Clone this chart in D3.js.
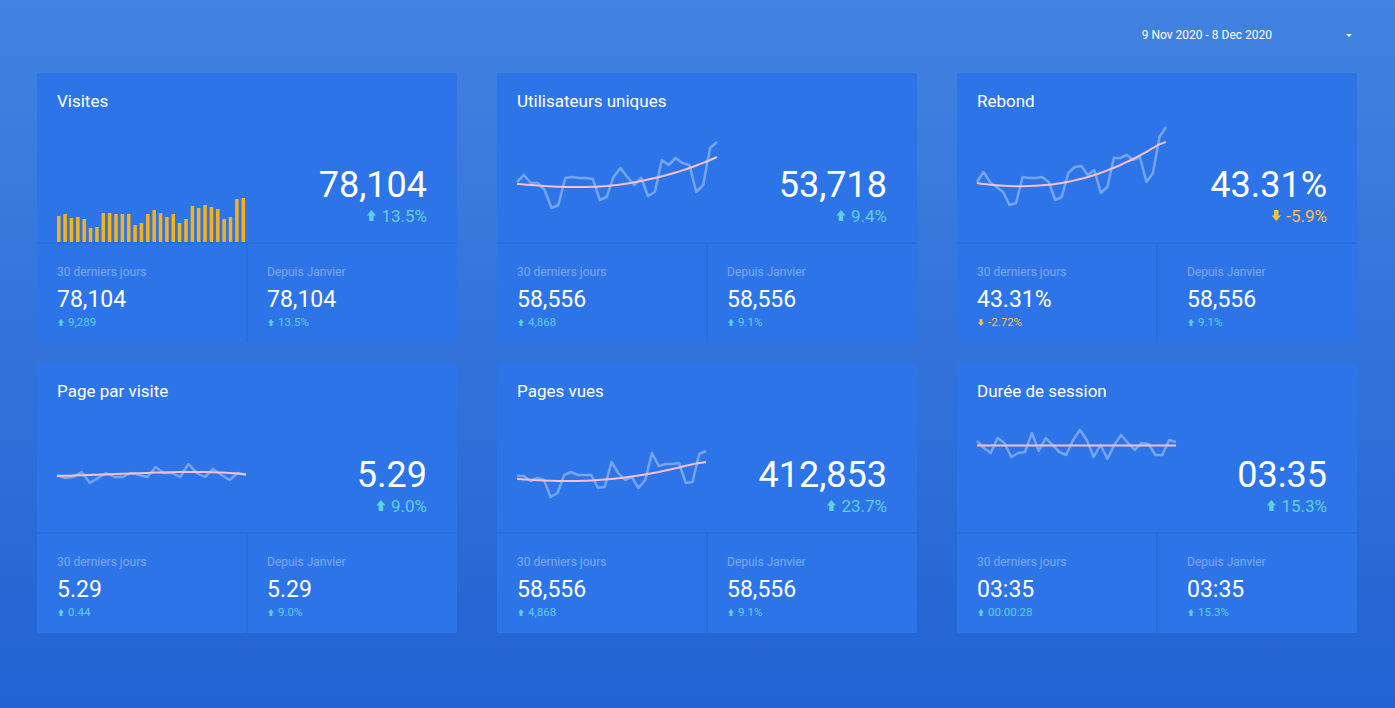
<!DOCTYPE html>
<html>
<head>
<meta charset="utf-8">
<script src="https://cdn.jsdelivr.net/npm/d3@7"></script>
<style>
  body { margin: 0; overflow: hidden; font-family: Roboto, 'Noto Sans', sans-serif; }
</style>
</head>
<body>
<div id="dash"></div>
<script>
// card titles and headline values
const titles = ['Visites', 'Utilisateurs uniques', 'Rebond', 'Page par visite', 'Pages vues', 'Durée de session']
const mainValues = ['78,104', '53,718', '43.31%', '5.29', '412,853', '03:35']
const mainChanges = ['13.5%', '9.4%', '-5.9%', '9.0%', '23.7%', '15.3%']
const lastValues = ['78,104', '58,556', '43.31%', '5.29', '58,556', '03:35']
const lastChanges = ['9,289', '4,868', '-2.72%', '0.44', '4,868', '00:00:28']
const janValues = ['78,104', '58,556', '58,556', '5.29', '58,556', '03:35']
const janChanges = ['13.5%', '9.1%', '9.1%', '9.0%', '9.1%', '15.3%']
const isDown = [false, false, true, false, false, false]

// daily visits (bars)
const visits = [26, 28, 24, 25, 23, 14, 15, 29, 29, 28, 28, 28, 17, 19, 28, 32, 29, 25, 28, 19, 23, 36, 34, 37, 35, 33, 23, 25, 43, 44]

// sparklines (raw + trend)
const users = [38, 45, 37, 37, 30, 12, 15, 42, 43, 42, 42, 41, 20, 23, 43, 52, 43, 35, 42, 24, 28, 60, 55, 62, 57, 55, 28, 35, 72, 78]
const usersTrend = [36, 35.5, 35, 34.5, 34, 33.5, 33.3, 33, 33, 33, 33, 33.2, 33.5, 34, 34.7, 35.5, 36.5, 37.7, 39, 40.5, 42, 43.7, 45.5, 47.5, 49.5, 52, 54.5, 57, 60, 63]
const bounce = [38, 48, 38, 33, 28, 15, 17, 43, 42, 42, 43, 38, 20, 23, 47, 53, 54, 45, 50, 27, 33, 62, 62, 65, 60, 63, 38, 47, 83, 93]
const bounceTrend = [37, 36, 35.3, 34.7, 34.2, 34, 33.8, 33.8, 34, 34.2, 34.6, 35.2, 36, 37, 38.2, 39.6, 41.2, 43, 45, 47.2, 49.6, 52.2, 55, 58, 61.2, 64.6, 68.2, 72, 76, 78]
const pagesPerVisit = [25, 22, 23, 28, 17, 22, 27, 23, 23, 27, 25, 23, 33, 27, 27, 23, 36, 27, 23, 31, 25, 20, 27, 25]
const pagesPerVisitTrend = [24, 24.2, 24.4, 24.7, 25, 25.3, 25.6, 25.9, 26.2, 26.5, 26.8, 27.1, 27.4, 27.6, 27.8, 28, 28.1, 28.1, 28, 27.8, 27.5, 27, 26.4, 25.7]
const pageViews = [34, 34, 29, 32, 30, 13, 17, 35, 38, 35, 35, 35, 22, 23, 48, 37, 30, 33, 22, 30, 57, 44, 46, 46, 47, 27, 28, 56, 59]
const pageViewsTrend = [31, 30.6, 30.2, 29.8, 29.5, 29.2, 29, 28.9, 28.9, 29, 29.2, 29.5, 29.9, 30.4, 31, 31.7, 32.5, 33.4, 34.4, 35.5, 36.7, 38, 39.4, 40.9, 42.5, 44.2, 45.9, 47, 48]
const session = [29, 22, 17, 32, 27, 13, 17, 18, 37, 19, 32, 25, 18, 15, 30, 40, 30, 13, 25, 11, 25, 35, 27, 20, 27, 26, 15, 15, 30, 28]
const sessionTrend = [24.6, 24.6, 24.6, 24.6, 24.6, 24.5, 24.5, 24.5, 24.5, 24.5, 24.5, 24.5, 24.5, 24.5, 24.5, 24.5, 24.5, 24.5, 24.5, 24.5, 24.5, 24.5, 24.5, 24.4, 24.4, 24.4, 24.4, 24.4, 24.4, 24.4]

const W = 1395
const H = 708
const svg = d3.select('#dash').append('svg').attr('width', W).attr('height', H)

const defs = svg.append('defs')
const grad = defs.append('linearGradient').attr('id', 'bg').attr('x1', 0).attr('y1', 0).attr('x2', 0).attr('y2', 1)
grad.append('stop').attr('offset', '0%').attr('stop-color', '#4282e0')
grad.append('stop').attr('offset', '100%').attr('stop-color', '#2263d3')
svg.append('rect').attr('width', W).attr('height', H).attr('fill', 'url(#bg)')

// date picker
svg.append('text').attr('x', 1272).attr('y', 39).attr('text-anchor', 'end')
  .attr('fill', '#fff').attr('font-size', 12).text('9 Nov 2020 - 8 Dec 2020')
svg.append('path').attr('d', 'M1346,34 l6,0 l-3,3 z').attr('fill', '#fff')

const cardX = [37, 497, 957]
const cardW = [420, 420, 400]
const cardY = [73, 363]
const cardH = 270

const up = '#5fd0e0'
const down = '#f7c244'

function arrow (g, x, y, s, isDn, color) {
  // slim block arrow, (x,y) = centre bottom
  const p = isDn
    ? [[-s * 0.2, -s], [s * 0.2, -s], [s * 0.2, -s * 0.5], [s * 0.42, -s * 0.5], [0, 0], [-s * 0.42, -s * 0.5], [-s * 0.2, -s * 0.5]]
    : [[-s * 0.2, 0], [s * 0.2, 0], [s * 0.2, -s * 0.5], [s * 0.42, -s * 0.5], [0, -s], [-s * 0.42, -s * 0.5], [-s * 0.2, -s * 0.5]]
  g.append('path').attr('d', 'M' + p.map(d => [x + d[0], y + d[1]].join(',')).join('L') + 'Z').attr('fill', color)
}

const sparks = [
  null,
  { raw: users, trend: usersTrend, top: 120, bottom: 220, x0: 20, x1: 220, dom: 100 },
  { raw: bounce, trend: bounceTrend, top: 110, bottom: 220, x0: 20, x1: 209, dom: 110 },
  { raw: pagesPerVisit, trend: pagesPerVisitTrend, top: 440, bottom: 500, x0: 20, x1: 209, dom: 60 },
  { raw: pageViews, trend: pageViewsTrend, top: 430, bottom: 510, x0: 20, x1: 209, dom: 80 },
  { raw: session, trend: sessionTrend, top: 420, bottom: 470, x0: 20, x1: 219, dom: 50 }
]

titles.forEach(function (t, i) {
  const col = i % 3
  const row = Math.floor(i / 3)
  const x = cardX[col]
  const y = cardY[row]
  const w = cardW[col]
  const g = svg.append('g').attr('transform', 'translate(' + x + ',' + y + ')')
  g.append('rect').attr('width', w).attr('height', cardH).attr('fill', '#2e74e9').attr('rx', 2)
  g.append('line').attr('x1', 0).attr('x2', w).attr('y1', 170).attr('y2', 170).attr('stroke', '#2766d2')
  g.append('line').attr('x1', w / 2).attr('x2', w / 2).attr('y1', 170).attr('y2', cardH).attr('stroke', '#2766d2')

  g.append('text').attr('x', 20).attr('y', 34).attr('fill', '#fff').attr('font-size', 17).text(t)

  const cChange = isDown[i] ? down : up
  g.append('text').attr('x', w - 30).attr('y', 124).attr('text-anchor', 'end')
    .attr('fill', '#fff').attr('font-size', 36).text(mainValues[i])
  const ct = g.append('text').attr('x', w - 30).attr('y', 149).attr('text-anchor', 'end')
    .attr('fill', cChange).attr('font-size', 17).text(mainChanges[i])
  const cw = ct.node().getComputedTextLength()
  arrow(g, w - 30 - cw - 10, 148, 11, isDown[i], cChange)

  const halves = [[lastValues[i], lastChanges[i], '30 derniers jours'], [janValues[i], janChanges[i], 'Depuis Janvier']]
  halves.forEach(function (h, k) {
    const hx = 20 + k * 210
    const dn = isDown[i] && k === 0
    const hc = dn ? down : up
    g.append('text').attr('x', hx).attr('y', 203).attr('fill', '#7fa9f0').attr('font-size', 12).text(h[2])
    g.append('text').attr('x', hx).attr('y', 234).attr('fill', '#fff').attr('font-size', 23).text(h[0])
    arrow(g, hx + 4, 253, 7, dn, hc)
    g.append('text').attr('x', hx + 11).attr('y', 253).attr('fill', hc).attr('font-size', 11.5).text(h[1])
  })

  if (i === 0) {
    const xb = d3.scaleBand().domain(d3.range(visits.length)).range([20, 208]).paddingInner(0.45)
    const yb = d3.scaleLinear().domain([0, 44]).range([169, 125])
    g.selectAll('rect.bar').data(visits).enter().append('rect').attr('class', 'bar')
      .attr('x', (d, j) => xb(j)).attr('width', xb.bandwidth())
      .attr('y', d => yb(d)).attr('height', d => 169 - yb(d)).attr('fill', '#f5b21a')
  } else {
    const s = sparks[i]
    const xs = d3.scaleLinear().domain([0, s.raw.length - 1]).range([s.x0, s.x1])
    const ys = d3.scaleLinear().domain([0, s.dom]).range([s.bottom - y, s.top - y])
    const line = d3.line().x((d, j) => xs(j)).y(d => ys(d))
    g.append('path').attr('d', line(s.raw)).attr('fill', 'none')
      .attr('stroke', '#8cb6f2').attr('stroke-opacity', 0.75).attr('stroke-width', 2.5).attr('stroke-linejoin', 'round')
    g.append('path').attr('d', d3.line().x((d, j) => xs(j)).y(d => ys(d)).curve(d3.curveBasis)(s.trend))
      .attr('fill', 'none').attr('stroke', '#f7c0cc').attr('stroke-width', 2)
  }
})
</script>
</body>
</html>
